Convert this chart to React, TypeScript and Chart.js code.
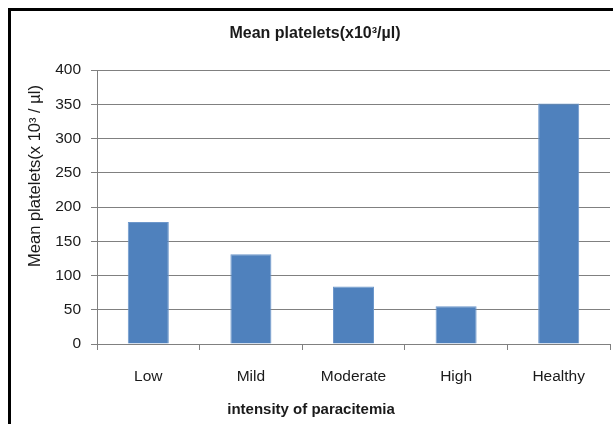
import React, { useEffect, useRef } from "react";
import { Chart, registerables } from "chart.js";

Chart.register(...registerables);

const categories: string[] = ["Low", "Mild", "Moderate", "High", "Healthy"];
const meanPlatelets: number[] = [178, 131, 84, 55, 351];
const yTicks: number[] = [0, 50, 100, 150, 200, 250, 300, 350, 400];

const chartTitle = "Mean platelets(x10\u00B3/\u00B5l)";
const yAxisTitle = "Mean platelets(x 10\u00B3 / \u00B5l)";
const xAxisTitle = "intensity of paracitemia";

const FONT = "'Liberation Sans', Arial, sans-serif";
const GRID = "#808080";
const TEXT = "#1a1a1a";

const axisTitlePlugin = {
  id: "axisTitles",
  afterDraw(chart: any) {
    const { ctx, chartArea } = chart;
    ctx.save();
    ctx.fillStyle = TEXT;
    ctx.textAlign = "center";
    ctx.textBaseline = "middle";
    ctx.font = `bold 15px ${FONT}`;
    ctx.fillText(xAxisTitle, chart.width / 2 - 1, chartArea.bottom + 66);
    ctx.translate(chartArea.left - 62, (chartArea.top + chartArea.bottom) / 2 - 31);
    ctx.rotate(-Math.PI / 2);
    ctx.font = `16.5px ${FONT}`;
    ctx.fillText(yAxisTitle, 0, 0);
    ctx.restore();
  },
};

export default function App() {
  const ref = useRef<HTMLCanvasElement | null>(null);

  useEffect(() => {
    if (!ref.current) return;
    const chart = new Chart(ref.current, {
      type: "bar",
      data: {
        labels: categories,
        datasets: [
          {
            label: "Mean platelets",
            data: meanPlatelets,
            backgroundColor: "#4F81BD",
            borderColor: "#6d97cb",
            borderWidth: 1,
            barPercentage: 0.4,
            categoryPercentage: 1,
          },
        ],
      },
      plugins: [axisTitlePlugin],
      options: {
        animation: false,
        responsive: false,
        devicePixelRatio: 1,
        layout: { padding: { left: 9, right: 3, top: 0, bottom: 0 } },
        plugins: {
          legend: { display: false },
          tooltip: { enabled: false },
          title: {
            display: true,
            text: chartTitle,
            color: TEXT,
            font: { family: FONT, size: 16, weight: "bold" },
            padding: { top: 13.4, bottom: 26.4 },
          },
        },
        scales: {
          x: {
            afterFit: (scale: any) => {
              scale.height = 80;
            },
            grid: {
              display: true,
              drawOnChartArea: false,
              drawTicks: true,
              tickLength: 6,
              color: GRID,
              offset: true,
            },
            border: { display: true, color: GRID, width: 1 },
            ticks: {
              color: TEXT,
              padding: 17,
              font: { family: FONT, size: 15.5 },
            },
          },
          y: {
            min: 0,
            max: 400,
            afterFit: (scale: any) => {
              scale.width = 77;
            },
            afterBuildTicks: (scale: any) => {
              scale.ticks = yTicks.map((v) => ({ value: v }));
            },
            grid: {
              color: GRID,
              lineWidth: 1,
              tickLength: 6,
              drawTicks: true,
            },
            border: { display: true, color: GRID, width: 1 },
            ticks: {
              color: TEXT,
              padding: 10,
              font: { family: FONT, size: 15.5 },
            },
          },
        },
      },
    });
    return () => chart.destroy();
  }, []);

  return (
    <div
      style={{
        position: "fixed",
        left: 8,
        top: 8,
        width: 605,
        height: 416,
        boxSizing: "border-box",
        borderLeft: "3px solid #000",
        borderTop: "3px solid #000",
        background: "#fff",
        overflow: "hidden",
      }}
    >
      <canvas ref={ref} width={602} height={413} style={{ display: "block" }} />
    </div>
  );
}
